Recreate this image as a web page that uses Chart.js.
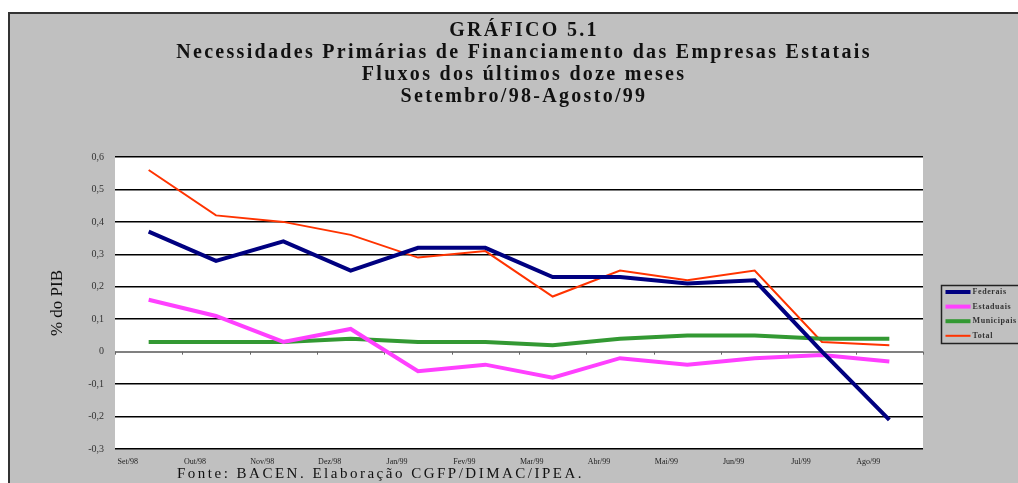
<!DOCTYPE html>
<html>
<head>
<meta charset="utf-8">
<title>Gráfico 5.1</title>
<script src="https://cdn.jsdelivr.net/npm/chart.js@4"></script>
<style>
  html, body { margin: 0; padding: 0; background: #fff; overflow: hidden; }
  #wrap { position: relative; width: 1018px; height: 483px; }
  #frame {
    position: absolute; left: 8px; top: 12px; width: 1100px; height: 600px;
    background: #c0c0c0; border-top: 2px solid #333; border-left: 2px solid #333;
  }
  #chart { position: absolute; left: 0; top: 0; }
</style>
</head>
<body>
<div id="wrap">
  <div id="frame"></div>
  <canvas id="chart" width="1018" height="483"></canvas>
</div>
<script>
const months = ["Set/98", "Out/98", "Nov/98", "Dez/98", "Jan/99", "Fev/99",
                "Mar/99", "Abr/99", "Mai/99", "Jun/99", "Jul/99", "Ago/99"];

const federais   = [0.37, 0.28, 0.34, 0.25, 0.32, 0.32, 0.23, 0.23, 0.21, 0.22, 0.00, -0.21];
const estaduais  = [0.16, 0.11, 0.03, 0.07, -0.06, -0.04, -0.08, -0.02, -0.04, -0.02, -0.01, -0.03];
const municipais = [0.03, 0.03, 0.03, 0.04, 0.03, 0.03, 0.02, 0.04, 0.05, 0.05, 0.04, 0.04];
const total      = [0.56, 0.42, 0.40, 0.36, 0.29, 0.31, 0.17, 0.25, 0.22, 0.25, 0.03, 0.02];

const yTicks = [-0.3, -0.2, -0.1, 0, 0.1, 0.2, 0.3, 0.4, 0.5, 0.6];

const titleLines = [
  "GRÁFICO 5.1",
  "Necessidades Primárias de Financiamento das Empresas Estatais",
  "Fluxos dos últimos doze meses",
  "Setembro/98-Agosto/99"
];
const sourceNote = "Fonte: BACEN. Elaboração CGFP/DIMAC/IPEA.";

const SERIF = "'Liberation Serif', 'Times New Roman', serif";

function fmtComma(v) {
  if (v === 0) return "0";
  return String(v).replace(".", ",");
}

// white plot area
const plotBackground = {
  id: "plotBackground",
  beforeDraw(chart) {
    const { ctx, chartArea: a } = chart;
    ctx.save();
    ctx.fillStyle = "#fff";
    ctx.fillRect(a.left, a.top, a.right - a.left, a.bottom - a.top);
    ctx.restore();
  }
};

// spaced title lettering (Excel style)
const spacedTitle = {
  id: "spacedTitle",
  afterInit(chart) {
    const block = chart.titleBlock;
    if (!block) return;
    const orig = block.draw.bind(block);
    block.draw = function () {
      chart.ctx.save();
      chart.ctx.letterSpacing = "2.3px";
      orig();
      chart.ctx.restore();
    };
  }
};

// small tick marks on the zero line at category boundaries
const zeroTicks = {
  id: "zeroTicks",
  beforeDatasetsDraw(chart) {
    const { ctx, scales } = chart;
    const xs = scales.x, ys = scales.y;
    const y0 = ys.getPixelForValue(0);
    const step = xs.getPixelForValue(1) - xs.getPixelForValue(0);
    ctx.save();
    ctx.strokeStyle = "#666";
    ctx.lineWidth = 1;
    for (let i = 0; i <= months.length; i++) {
      const bx = Math.round(xs.getPixelForValue(0) - step / 2 + i * step) + 0.5;
      ctx.beginPath();
      ctx.moveTo(bx, y0);
      ctx.lineTo(bx, y0 + 3);
      ctx.stroke();
    }
    ctx.restore();
  }
};

// boxed legend on the right + source note
const boxLegend = {
  id: "boxLegend",
  afterDraw(chart) {
    const { ctx, chartArea: a } = chart;
    const bx = a.right + 18.5, by = 285.5;
    ctx.save();
    ctx.strokeStyle = "#222";
    ctx.lineWidth = 1.5;
    ctx.strokeRect(bx, by, 120, 58);

    ctx.font = "bold 8px " + SERIF;
    ctx.letterSpacing = "0.6px";
    ctx.textBaseline = "middle";
    ctx.fillStyle = "#333";
    chart.data.datasets.forEach((ds, i) => {
      const y = 292 + i * 14.6;
      ctx.strokeStyle = ds.borderColor;
      ctx.lineWidth = ds.borderWidth;
      ctx.beginPath();
      ctx.moveTo(bx + 4, y);
      ctx.lineTo(bx + 29, y);
      ctx.stroke();
      ctx.fillText(ds.label, bx + 31, y);
    });

    ctx.font = "15px " + SERIF;
    ctx.letterSpacing = "2.5px";
    ctx.textBaseline = "alphabetic";
    ctx.fillStyle = "#111";
    ctx.fillText(sourceNote, 177, 478);
    ctx.restore();
  }
};

function renderChart() {
  const ctx = document.getElementById("chart").getContext("2d");

  new Chart(ctx, {
    type: "line",
    data: {
      labels: months,
      datasets: [
        { label: "Federais", data: federais, borderColor: "#000080", borderWidth: 4 },
        { label: "Estaduais", data: estaduais, borderColor: "#ff40ff", borderWidth: 4 },
        { label: "Municipais", data: municipais, borderColor: "#339933", borderWidth: 4 },
        { label: "Total", data: total, borderColor: "#ff3300", borderWidth: 2 }
      ]
    },
    options: {
      responsive: false,
      animation: false,
      devicePixelRatio: 1,
      elements: { point: { radius: 0 }, line: { tension: 0 } },
      layout: { padding: { left: 30, right: 0, top: 0, bottom: 0 } },
      plugins: {
        legend: { display: false },
        tooltip: { enabled: false },
        title: {
          display: true,
          text: titleLines,
          color: "#111",
          font: { family: SERIF, size: 20, weight: "bold", lineHeight: "22px" },
          padding: { top: 19.5, bottom: 49.5 }
        }
      },
      scales: {
        x: {
          offset: true,
          grid: { display: false, drawTicks: false },
          border: { display: false },
          ticks: {
            color: "#222",
            font: { family: SERIF, size: 8 },
            maxRotation: 0,
            autoSkip: false,
            labelOffset: -21,
            padding: 8
          },
          afterFit(s) { s.height = 34; }
        },
        y: {
          min: -0.3,
          max: 0.6,
          afterBuildTicks(s) { s.ticks = yTicks.map(v => ({ value: v })); },
          grid: {
            drawTicks: false,
            color: c => (c.tick && c.tick.value === 0 ? "#808080" : "#000"),
            lineWidth: c => (c.tick && c.tick.value === 0 ? 2 : 1.5)
          },
          border: { display: false },
          ticks: {
            color: "#333",
            font: { family: SERIF, size: 10 },
            padding: 11,
            callback: v => fmtComma(v)
          },
          title: {
            display: true,
            text: "% do PIB",
            color: "#111",
            font: { family: SERIF, size: 17 },
            padding: { top: 17, bottom: 0 }
          },
          afterFit(s) { s.width = 85; }
        },
        yPad: {
          position: "right",
          grid: { display: false },
          border: { display: false },
          ticks: { display: false },
          afterFit(s) { s.width = 95; }
        }
      }
    },
    plugins: [plotBackground, spacedTitle, zeroTicks, boxLegend]
  });
}

window.addEventListener("load", renderChart);
</script>
</body>
</html>
